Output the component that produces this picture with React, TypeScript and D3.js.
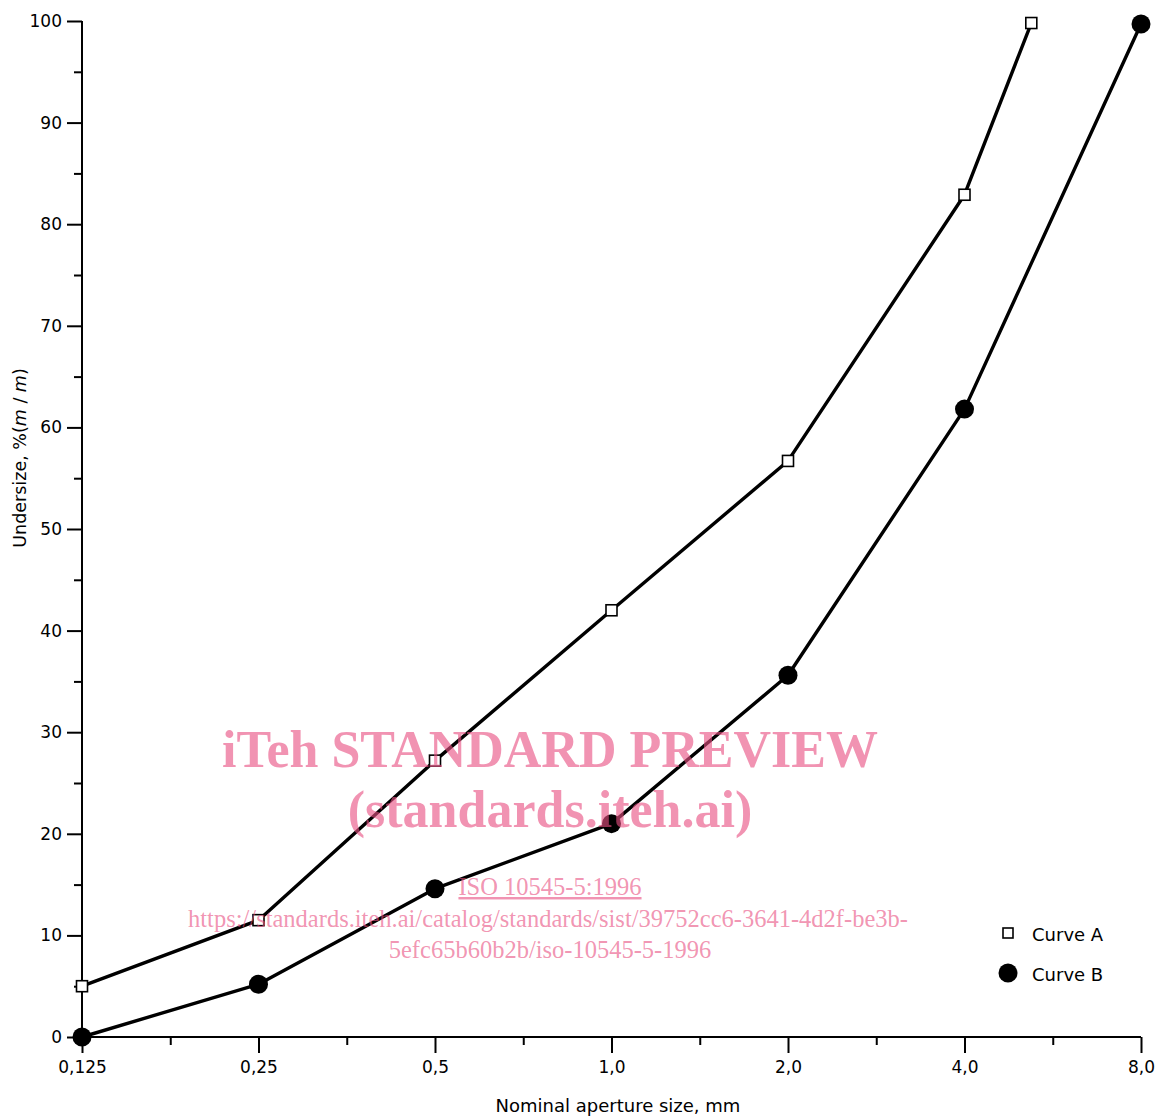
import React, { useEffect, useRef } from 'react';
import * as d3 from 'd3';

// aperture sizes, mm
const sizes = [0.125, 0.25, 0.5, 1.0, 2.0, 4.0];
const curveA = [5.0, 11.5, 27.2, 42.0, 56.7, 82.9];
const curveALast = { size: 5.2, value: 99.8 };
const sizesB = [0.125, 0.25, 0.5, 1.0, 2.0, 4.0, 8.0];
const curveB = [0.0, 5.2, 14.6, 21.0, 35.6, 61.8, 99.7];

const xTicks = [0.125, 0.25, 0.5, 1, 2, 4, 8];
const xTickLabels = ['0,125', '0,25', '0,5', '1,0', '2,0', '4,0', '8,0'];
const yTicks = [0, 10, 20, 30, 40, 50, 60, 70, 80, 90, 100];
const yMinorTicks = [5, 15, 25, 35, 45, 55, 65, 75, 85, 95];

const watermark = [
  'iTeh STANDARD PREVIEW',
  '(standards.iteh.ai)',
  'ISO 10545-5:1996',
  'https://standards.iteh.ai/catalog/standards/sist/39752cc6-3641-4d2f-be3b-',
  '5efc65b60b2b/iso-10545-5-1996',
];

const FONT = '"DejaVu Sans", sans-serif';

const App = () => {
  const svgRef = useRef(null);

  useEffect(() => {
    document.body.style.margin = '0';
    const svg = d3.select(svgRef.current);
    svg.selectAll('*').remove();

    const x = d3.scaleLog().base(2).domain([0.125, 8]).range([82, 1141]);
    const y = d3.scaleLinear().domain([0, 100]).range([1037, 21]);

    // axes lines
    svg.append('line')
      .attr('x1', x(0.125)).attr('x2', x(8))
      .attr('y1', y(0)).attr('y2', y(0))
      .attr('stroke', '#000').attr('stroke-width', 2);
    svg.append('line')
      .attr('x1', x(0.125)).attr('x2', x(0.125))
      .attr('y1', y(0)).attr('y2', y(100))
      .attr('stroke', '#000').attr('stroke-width', 2);

    // x axis
    const gx = svg.append('g').attr('transform', `translate(0,${y(0)})`);
    gx.call(
      d3.axisBottom(x).tickValues(xTicks).tickSize(16).tickPadding(8)
        .tickFormat((d, i) => xTickLabels[i])
    );
    const xMinor = xTicks.slice(1).map((t, i) => Math.sqrt(t * xTicks[i]));
    gx.append('g').call(d3.axisBottom(x).tickValues(xMinor).tickSize(8).tickFormat(() => ''));

    // y axis
    const gy = svg.append('g').attr('transform', `translate(${x(0.125)},0)`);
    gy.call(d3.axisLeft(y).tickValues(yTicks).tickSize(15).tickPadding(5).tickFormat(d3.format('d')));
    gy.append('g').call(d3.axisLeft(y).tickValues(yMinorTicks).tickSize(8).tickFormat(() => ''));

    svg.selectAll('.domain').remove();
    svg.selectAll('.tick line').attr('stroke', '#000').attr('stroke-width', 2);
    svg.selectAll('.tick text')
      .attr('fill', '#000')
      .style('font-family', FONT)
      .style('font-size', '17px');

    // axis titles
    svg.append('text')
      .attr('x', 618).attr('y', 1112)
      .attr('text-anchor', 'middle')
      .style('font-family', FONT).style('font-size', '18px')
      .text('Nominal aperture size, mm');

    const yl = svg.append('text')
      .attr('transform', 'translate(26,458) rotate(-90)')
      .attr('text-anchor', 'middle')
      .style('font-family', FONT).style('font-size', '17.5px');
    yl.append('tspan').text('Undersize, %(');
    yl.append('tspan').style('font-style', 'italic').text('m');
    yl.append('tspan').text(' / ');
    yl.append('tspan').style('font-style', 'italic').text('m');
    yl.append('tspan').text(')');

    const line = d3.line().x((d) => x(d[0])).y((d) => y(d[1]));

    const ptsA = sizes.map((s, i) => [s, curveA[i]]).concat([[curveALast.size, curveALast.value]]);
    const ptsB = sizesB.map((s, i) => [s, curveB[i]]);

    svg.append('path').attr('d', line(ptsA))
      .attr('fill', 'none').attr('stroke', '#000').attr('stroke-width', 3.4)
      .attr('stroke-linejoin', 'round');
    svg.append('path').attr('d', line(ptsB))
      .attr('fill', 'none').attr('stroke', '#000').attr('stroke-width', 3.4)
      .attr('stroke-linejoin', 'round');

    svg.append('g').selectAll('circle').data(ptsB).enter().append('circle')
      .attr('cx', (d) => x(d[0])).attr('cy', (d) => y(d[1]))
      .attr('r', 9.5).attr('fill', '#000');

    svg.append('g').selectAll('rect').data(ptsA).enter().append('rect')
      .attr('x', (d) => x(d[0]) - 5.5).attr('y', (d) => y(d[1]) - 5.5)
      .attr('width', 11).attr('height', 11)
      .attr('fill', '#fff').attr('stroke', '#000').attr('stroke-width', 1.6);

    // legend
    const lg = svg.append('g');
    lg.append('rect').attr('x', 1003).attr('y', 928).attr('width', 10).attr('height', 10)
      .attr('fill', '#fff').attr('stroke', '#000').attr('stroke-width', 1.6);
    lg.append('text').attr('x', 1032).attr('y', 941)
      .style('font-family', FONT).style('font-size', '18px').text('Curve A');
    lg.append('circle').attr('cx', 1008).attr('cy', 973).attr('r', 9.5).attr('fill', '#000');
    lg.append('text').attr('x', 1032).attr('y', 981)
      .style('font-family', FONT).style('font-size', '18px').text('Curve B');

    // watermark
    const wm = svg.append('g')
      .attr('fill', 'rgb(233,80,130)').attr('fill-opacity', 0.62)
      .attr('text-anchor', 'middle')
      .style('font-family', '"Liberation Serif", serif');
    wm.append('text').attr('x', 550).attr('y', 767)
      .style('font-size', '52px').style('font-weight', 'bold').text(watermark[0]);
    wm.append('text').attr('x', 550).attr('y', 827)
      .style('font-size', '52px').style('font-weight', 'bold').text(watermark[1]);
    wm.append('text').attr('x', 550).attr('y', 895)
      .style('font-size', '24.5px').style('text-decoration', 'underline').text(watermark[2]);
    wm.append('text').attr('x', 548).attr('y', 927)
      .style('font-size', '24.5px').text(watermark[3]);
    wm.append('text').attr('x', 550).attr('y', 958)
      .style('font-size', '24.5px').text(watermark[4]);
  }, []);

  return (
    <svg ref={svgRef} width={1161} height={1117} style={{ display: 'block', background: '#fff' }}></svg>
  );
};

export default App;
